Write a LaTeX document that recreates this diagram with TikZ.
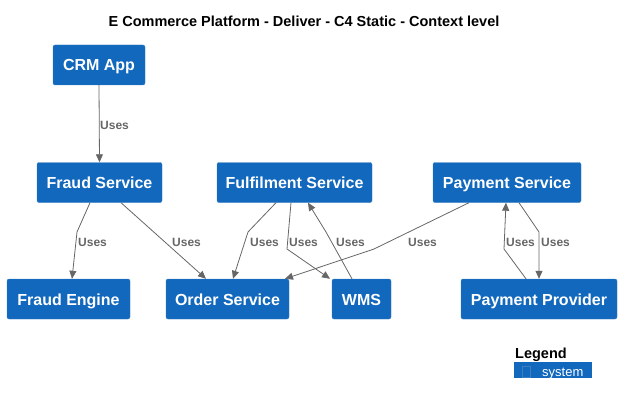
\documentclass[tikz,border=0pt]{standalone}
\usepackage{fontspec}
\setmainfont{Liberation Sans}
\usetikzlibrary{arrows.meta}
\definecolor{sysblue}{HTML}{1168BD}
\definecolor{sysborder}{HTML}{3C7FC0}
\definecolor{relgray}{HTML}{666666}
\begin{document}
\begin{tikzpicture}[x=1pt, y=-1pt,
    system/.style={draw=sysborder, fill=sysblue, rounded corners=2pt, text=white,
      font=\fontsize{16}{19}\selectfont\bfseries, minimum height=40pt, inner sep=0pt,
      text height=12pt, text depth=-1pt},
    uses/.style={draw=relgray, line width=0.8pt, -{Triangle[length=8pt,width=7pt]}},
    useslabel/.style={text=relgray, font=\fontsize{12}{14}\selectfont\bfseries, anchor=west, inner sep=0pt}]
    \useasboundingbox (0,0) rectangle (622,404);
    % title
    \node[font=\fontsize{14.5}{17}\selectfont\bfseries] (title) at (304,21) {E Commerce Platform - Deliver - C4 Static - Context level};
    % systems
    \node[system, minimum width=92pt] (crm) at (99,65) {CRM App};
    \node[system, minimum width=125pt] (fraud) at (99.5,182.5) {Fraud Service};
    \node[system, minimum width=155pt] (fulfil) at (294.5,182.5) {Fulfilment Service};
    \node[system, minimum width=148pt] (payment) at (507,182.5) {Payment Service};
    \node[system, minimum width=123pt] (engine) at (68.5,299) {Fraud Engine};
    \node[system, minimum width=123pt] (order) at (227.5,299) {Order Service};
    \node[system, minimum width=59pt] (wms) at (361.5,299) {WMS};
    \node[system, minimum width=156pt] (provider) at (539,299) {Payment Provider};
    % relations
    \draw[uses] (crm.south) -- (fraud.north);
    \draw[uses] ([xshift=-9.5pt]fraud.south) -- (77,232) -- ([xshift=3.5pt]engine.north);
    \draw[uses] ([xshift=21.5pt]fraud.south) -- ([xshift=-21.5pt]order.north);
    \draw[uses] ([xshift=-18.5pt]fulfil.south) -- (248,232) -- ([xshift=5.5pt]order.north);
    \draw[uses] ([xshift=-3.5pt]fulfil.south) -- (287,249) -- ([xshift=-31.5pt]wms.north);
    \draw[uses] ([xshift=-9.5pt]wms.north) -- (326,232) -- ([xshift=13.5pt]fulfil.south);
    \draw[uses] ([xshift=-38pt]payment.south) -- (374,249) -- ([xshift=57.5pt]order.north);
    \draw[uses] ([xshift=-13pt]provider.north) -- (504,249) -- ([xshift=-1pt]payment.south);
    \draw[uses] ([xshift=12pt]payment.south) -- (539,232) -- (provider.north);
    % labels
    \node[useslabel] (l1) at (100,125) {Uses};
    \node[useslabel] (l2) at (78,242) {Uses};
    \node[useslabel] (l3) at (172,242) {Uses};
    \node[useslabel] (l4) at (250,242) {Uses};
    \node[useslabel] (l5) at (289,242) {Uses};
    \node[useslabel] (l6) at (336,242) {Uses};
    \node[useslabel] (l7) at (408,242) {Uses};
    \node[useslabel] (l8) at (506,242) {Uses};
    \node[useslabel] (l9) at (541,242) {Uses};
    % legend
    \node[font=\fontsize{14.5}{17}\selectfont\bfseries, anchor=base west, inner sep=0pt] (legend) at (515,358) {Legend};
    \fill[sysblue] (514,362) rectangle (592,378);
    \draw[sysborder, line width=0.6pt] (522,366) rectangle (530,377);
    \node[text=white, font=\fontsize{13}{15}\selectfont, anchor=base west, inner sep=0pt] (legsys) at (542,376) {system};
\end{tikzpicture}
\end{document}
